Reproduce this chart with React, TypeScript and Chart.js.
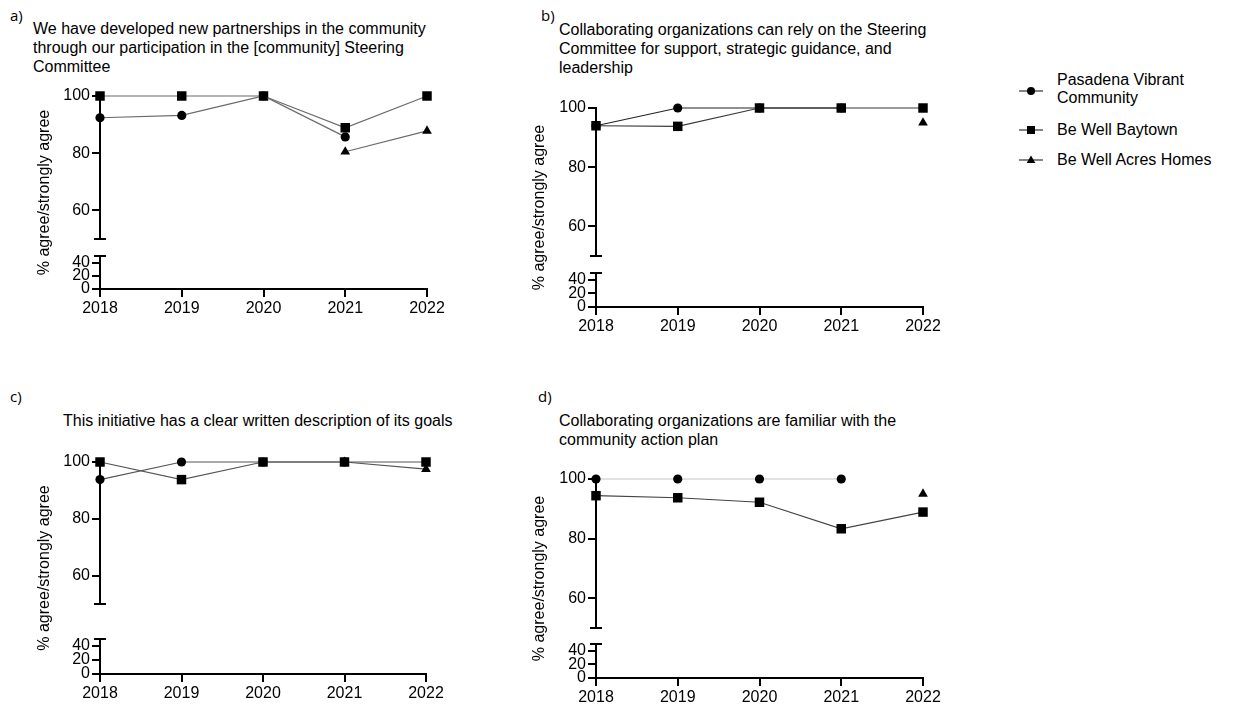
import React, { useEffect, useRef } from 'react';
import { Chart, registerables } from 'chart.js';

Chart.register(...registerables);

const FONT = "'Liberation Sans', Arial, Helvetica, sans-serif";

// ---- data ----
const years = ['2018', '2019', '2020', '2021', '2022'];
const upperTicks = [60, 80, 100];
const lowerTicks = [0, 20, 40];
const upperRange = [50, 100];
const lowerRange = [0, 50];
const seriesNames = ['Pasadena Vibrant Community', 'Be Well Baytown', 'Be Well Acres Homes'];
const yAxisTitle = '% agree/strongly agree';

const aPasadena = [92.4, 93.2, 100, 85.7, null];
const aBaytown = [100, 100, 100, 88.9, 100];
const aAcres = [null, null, null, 80.5, 87.8];

const bPasadena = [94, 100, 100, 100, null];
const bBaytown = [94, 93.8, 100, 100, 100];
const bAcres = [null, null, null, null, 95];

const cPasadena = [93.8, 100, 100, 100, null];
const cBaytown = [100, 93.8, 100, 100, 100];
const cAcres = [null, null, null, 100, 97.5];

const dPasadena = [100, 100, 100, 100, null];
const dBaytown = [94.4, 93.7, 92.2, 83.3, 88.9];
const dAcres = [null, null, null, null, 95];

// ---- styling ----
const pointStyles = ['circle', 'rect', 'triangle'];
const pointRadii = [4.6, 6.7, 5.6];
const PAD_TOP = 14;
const PAD_RIGHT = 24;
const PAD_BOTTOM = 4;
const X_AXIS_H = 30;
const STACK_W = 36;

type Panel = {
  id: string;
  label: string;
  title: string[];
  series: (number | null)[][];
  lineColors: string[];
  axisX: number;
  rightX: number;
  topY: number;
  breakTopY: number;
  breakBotY: number;
  bottomY: number;
  yTitleX: number;
  labelX: number;
  labelY: number;
  titleX: number;
  titleY: number;
};

const panels: Panel[] = [
  {
    id: 'a', label: 'a)',
    title: ['We have developed new partnerships in the community', 'through our participation in the [community] Steering', 'Committee'],
    series: [aPasadena, aBaytown, aAcres],
    lineColors: ['#6a6a6a', '#6a6a6a', '#6a6a6a'],
    axisX: 100, rightX: 427, topY: 96, breakTopY: 239, breakBotY: 256, bottomY: 289,
    yTitleX: 45, labelX: 10, labelY: 6, titleX: 33, titleY: 19,
  },
  {
    id: 'b', label: 'b)',
    title: ['Collaborating organizations can rely on the Steering', 'Committee for support, strategic guidance, and', 'leadership'],
    series: [bPasadena, bBaytown, bAcres],
    lineColors: ['#222222', '#3a3a3a', '#3a3a3a'],
    axisX: 596, rightX: 923, topY: 108, breakTopY: 256, breakBotY: 273, bottomY: 307,
    yTitleX: 540, labelX: 541, labelY: 6, titleX: 559, titleY: 20,
  },
  {
    id: 'c', label: 'c)',
    title: ['This initiative has a clear written description of its goals'],
    series: [cPasadena, cBaytown, cAcres],
    lineColors: ['#555555', '#555555', '#555555'],
    axisX: 100, rightX: 426, topY: 462, breakTopY: 604, breakBotY: 639, bottomY: 674,
    yTitleX: 45, labelX: 10, labelY: 387, titleX: 63, titleY: 411,
  },
  {
    id: 'd', label: 'd)',
    title: ['Collaborating organizations are familiar with the', 'community action plan'],
    series: [dPasadena, dBaytown, dAcres],
    lineColors: ['#c4c4c4', '#444444', '#444444'],
    axisX: 596, rightX: 923, topY: 479, breakTopY: 628, breakBotY: 644, bottomY: 678,
    yTitleX: 540, labelX: 538, labelY: 387, titleX: 559, titleY: 411,
  },
];

const capPlugin = {
  id: 'breakCaps',
  afterDraw(chart: any) {
    const top = chart.scales.yTop;
    const bot = chart.scales.yBottom;
    if (!top || !bot) return;
    const ctx = chart.ctx;
    ctx.save();
    ctx.strokeStyle = '#000';
    ctx.lineWidth = 2;
    const x = top.right;
    const y1 = Math.round(top.getPixelForValue(top.min));
    const y2 = Math.round(bot.getPixelForValue(bot.max));
    ctx.beginPath();
    ctx.moveTo(x - 6, y1);
    ctx.lineTo(x + 6, y1);
    ctx.moveTo(x - 6, y2);
    ctx.lineTo(x + 6, y2);
    ctx.stroke();
    ctx.restore();
  },
};

const tickFont = { size: 16, family: FONT };

function ChartPanel({ p }: { p: Panel }) {
  const ref = useRef<HTMLCanvasElement>(null);
  const L = Math.round(p.yTitleX - 12.6);
  const T = Math.round(p.topY) - PAD_TOP;
  const W = Math.round(p.rightX) + PAD_RIGHT - L;
  const H = Math.round(p.bottomY) + X_AXIS_H + PAD_BOTTOM - T;

  useEffect(() => {
    const canvas = ref.current;
    if (!canvas) return;
    const axisGrid = {
      display: true,
      drawOnChartArea: false,
      drawTicks: true,
      tickLength: 8,
      color: '#000',
      lineWidth: 2,
    };
    const hidden = {
      ticks: { display: false },
      grid: { display: false, drawTicks: false },
      border: { display: false },
    };
    const chart = new Chart(canvas, {
      type: 'line',
      data: {
        labels: years,
        datasets: p.series.map((d, i) => ({
          label: seriesNames[i],
          data: d,
          xAxisID: 'x',
          yAxisID: 'yTop',
          borderColor: p.lineColors[i],
          borderWidth: 1.2,
          backgroundColor: '#000',
          pointStyle: pointStyles[i] as any,
          pointRadius: pointRadii[i],
          pointHoverRadius: pointRadii[i],
          pointBackgroundColor: '#000',
          pointBorderColor: '#000',
          pointBorderWidth: 0,
          clip: false as any,
          spanGaps: false,
          tension: 0,
          fill: false,
        })),
      },
      options: {
        responsive: false,
        animation: false,
        events: [],
        layout: { padding: { left: 0, right: PAD_RIGHT, top: PAD_TOP, bottom: PAD_BOTTOM } },
        plugins: {
          legend: { display: false },
          tooltip: { enabled: false },
          title: { display: false },
        },
        scales: {
          x: {
            type: 'category',
            position: 'bottom',
            offset: false,
            ticks: { color: '#000', font: tickFont, padding: 2, autoSkip: false, maxRotation: 0 },
            grid: { ...axisGrid, offset: false },
            border: { display: true, color: '#000', width: 2 },
            afterFit: (s: any) => { s.height = X_AXIS_H; },
          },
          yTitle: {
            type: 'linear',
            position: 'left',
            weight: 10,
            display: true,
            ...hidden,
            title: {
              display: true,
              text: yAxisTitle,
              color: '#000',
              font: { size: 16, family: FONT },
              padding: { top: 3, bottom: 0 },
            },
            afterFit: (s: any) => { s.width = p.axisX - STACK_W - L; },
          },
          yTop: {
            type: 'linear',
            position: 'left',
            stack: 'left',
            stackWeight: p.breakTopY - p.topY,
            weight: 3,
            min: upperRange[0],
            max: upperRange[1],
            afterBuildTicks: (s: any) => { s.ticks = upperTicks.map((v) => ({ value: v })); },
            afterFit: (s: any) => { s.width = STACK_W; },
            ticks: { color: '#000', font: tickFont, padding: 2, autoSkip: false },
            grid: axisGrid,
            border: { display: true, color: '#000', width: 2 },
          },
          yGap: {
            type: 'linear',
            position: 'left',
            stack: 'left',
            stackWeight: p.breakBotY - p.breakTopY,
            weight: 2,
            display: true,
            ...hidden,
            afterFit: (s: any) => { s.width = STACK_W; },
          },
          yBottom: {
            type: 'linear',
            position: 'left',
            stack: 'left',
            stackWeight: p.bottomY - p.breakBotY,
            weight: 1,
            min: lowerRange[0],
            max: lowerRange[1],
            afterBuildTicks: (s: any) => { s.ticks = lowerTicks.map((v) => ({ value: v })); },
            afterFit: (s: any) => { s.width = STACK_W; },
            ticks: { color: '#000', font: tickFont, padding: 2, autoSkip: false },
            grid: axisGrid,
            border: { display: true, color: '#000', width: 2 },
          },
        } as any,
      },
      plugins: [capPlugin],
    });
    return () => chart.destroy();
  }, []);

  return (
    <canvas
      ref={ref}
      width={W}
      height={H}
      style={{ position: 'absolute', left: L, top: T, width: W, height: H }}
    />
  );
}

function LegendMarker({ shape }: { shape: string }) {
  return (
    <svg width={26} height={14} style={{ display: 'block' }}>
      <line x1={1} y1={7} x2={25} y2={7} stroke="#333" strokeWidth={1.2} />
      {shape === 'circle' && <circle cx={13} cy={7} r={4} fill="#000" />}
      {shape === 'rect' && <rect x={9} y={3} width={8} height={8} fill="#000" />}
      {shape === 'triangle' && <polygon points="13,2.5 17.3,10 8.7,10" fill="#000" />}
    </svg>
  );
}

const legendRows = [
  { lines: ['Pasadena Vibrant', 'Community'], textTop: 71, markerTop: 84 },
  { lines: ['Be Well Baytown'], textTop: 121, markerTop: 123 },
  { lines: ['Be Well Acres Homes'], textTop: 151, markerTop: 153 },
];

export default function App() {
  return (
    <div
      style={{
        position: 'absolute',
        left: 0,
        top: 0,
        width: 1240,
        height: 709,
        background: '#fff',
        overflow: 'hidden',
        fontFamily: FONT,
        color: '#000',
      }}
    >
      {panels.map((p) => (
        <React.Fragment key={p.id}>
          <div
            style={{
              position: 'absolute', left: p.labelX, top: p.labelY,
              fontFamily: "'Open Sans', 'DejaVu Sans', sans-serif", fontSize: 15, lineHeight: '18px',
            }}
          >
            {p.label}
          </div>
          <div
            style={{
              position: 'absolute', left: p.titleX, top: p.titleY,
              fontSize: 16, lineHeight: '19.2px', whiteSpace: 'nowrap',
            }}
          >
            {p.title.map((t, i) => (
              <div key={i}>{t}</div>
            ))}
          </div>
          <ChartPanel p={p} />
        </React.Fragment>
      ))}
      {legendRows.map((r, i) => (
        <React.Fragment key={i}>
          <div style={{ position: 'absolute', left: 1018, top: r.markerTop }}>
            <LegendMarker shape={pointStyles[i]} />
          </div>
          <div
            style={{
              position: 'absolute', left: 1057, top: r.textTop,
              fontSize: 16, lineHeight: '18px', whiteSpace: 'nowrap',
            }}
          >
            {r.lines.map((t, k) => (
              <div key={k}>{t}</div>
            ))}
          </div>
        </React.Fragment>
      ))}
    </div>
  );
}
